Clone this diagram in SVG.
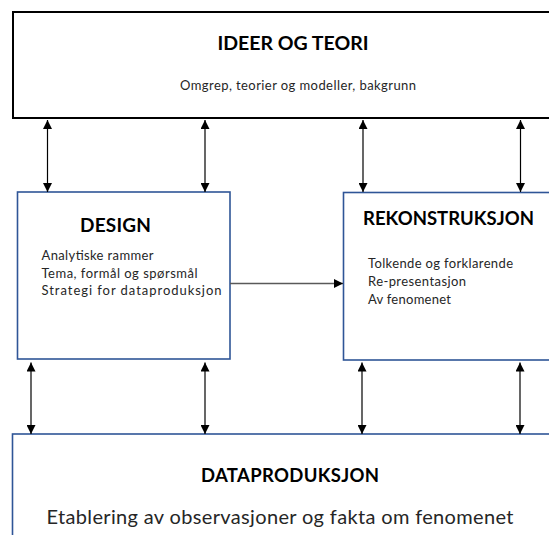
<svg xmlns="http://www.w3.org/2000/svg" width="549" height="535" viewBox="0 0 549 535">
  <style>
    .title { font-family: Lato, "Liberation Sans", sans-serif; font-weight: bold; fill: #000; }
    .body { font-family: Lato, "Liberation Sans", sans-serif; fill: #262626; }
    .box-black { fill: #fff; stroke: #000; stroke-width: 2; }
    .box-blue { fill: #fff; stroke: #2F5597; stroke-width: 1.6; }
    .link { stroke: #000; stroke-width: 1.2; fill: none; }
    .flow { stroke: #595959; stroke-width: 1.6; fill: none; }
  </style>
  <defs>
    <marker id="head" viewBox="0 0 10 10" refX="10" refY="5" markerWidth="10" markerHeight="9" markerUnits="userSpaceOnUse" orient="auto-start-reverse">
      <path d="M0,0 L10,5 L0,10 Z" fill="#000"/>
    </marker>
  </defs>
  <rect width="549" height="535" fill="#fff"/>

  <g id="ideer-og-teori">
    <rect class="box-black" x="13" y="12" width="560" height="106"/>
    <text class="title" x="293" y="50" font-size="19.5" text-anchor="middle">IDEER OG TEORI</text>
    <text class="body" x="298" y="90" font-size="13" text-anchor="middle" textLength="236">Omgrep, teorier og modeller, bakgrunn</text>
  </g>

  <g id="design">
    <rect class="box-blue" x="17.5" y="192" width="212.5" height="167"/>
    <text class="title" x="80" y="231.5" font-size="19" textLength="71">DESIGN</text>
    <text class="body" x="41.5" y="260" font-size="13" textLength="112">Analytiske rammer</text>
    <text class="body" x="41.5" y="277.5" font-size="13" textLength="156">Tema, formål og spørsmål</text>
    <text class="body" x="41.5" y="295" font-size="13" textLength="180">Strategi for dataproduksjon</text>
  </g>

  <g id="rekonstruksjon">
    <rect class="box-blue" x="343.5" y="192.5" width="220" height="167.5"/>
    <text class="title" x="363" y="225" font-size="18.5" textLength="171">REKONSTRUKSJON</text>
    <text class="body" x="368" y="267.5" font-size="13" textLength="145">Tolkende og forklarende</text>
    <text class="body" x="368" y="285.5" font-size="13" textLength="98">Re-presentasjon</text>
    <text class="body" x="368" y="303.5" font-size="13" textLength="83">Av fenomenet</text>
  </g>

  <g id="dataproduksjon">
    <rect class="box-blue" x="12.5" y="434" width="560" height="120"/>
    <text class="title" x="290" y="482" font-size="18.5" text-anchor="middle" textLength="178">DATAPRODUKSJON</text>
    <text class="body" x="280" y="524" font-size="20" text-anchor="middle" textLength="467">Etablering av observasjoner og fakta om fenomenet</text>
  </g>

  <g id="connectors">
    <!-- ideer og teori <-> design / rekonstruksjon -->
    <line class="link" x1="47.5" y1="120" x2="47.5" y2="192" marker-start="url(#head)" marker-end="url(#head)"/>
    <line class="link" x1="205" y1="120" x2="205" y2="192" marker-start="url(#head)" marker-end="url(#head)"/>
    <line class="link" x1="363" y1="120" x2="363" y2="192" marker-start="url(#head)" marker-end="url(#head)"/>
    <line class="link" x1="520.5" y1="120" x2="520.5" y2="192" marker-start="url(#head)" marker-end="url(#head)"/>
    <!-- design / rekonstruksjon <-> dataproduksjon -->
    <line class="link" x1="31" y1="362.5" x2="31" y2="434" marker-start="url(#head)" marker-end="url(#head)"/>
    <line class="link" x1="205" y1="362.5" x2="205" y2="434" marker-start="url(#head)" marker-end="url(#head)"/>
    <line class="link" x1="362" y1="362.5" x2="362" y2="434" marker-start="url(#head)" marker-end="url(#head)"/>
    <line class="link" x1="520" y1="362.5" x2="520" y2="434" marker-start="url(#head)" marker-end="url(#head)"/>
    <!-- design -> rekonstruksjon -->
    <line class="flow" x1="230" y1="283.5" x2="343" y2="283.5" marker-end="url(#head)"/>
  </g>
</svg>
